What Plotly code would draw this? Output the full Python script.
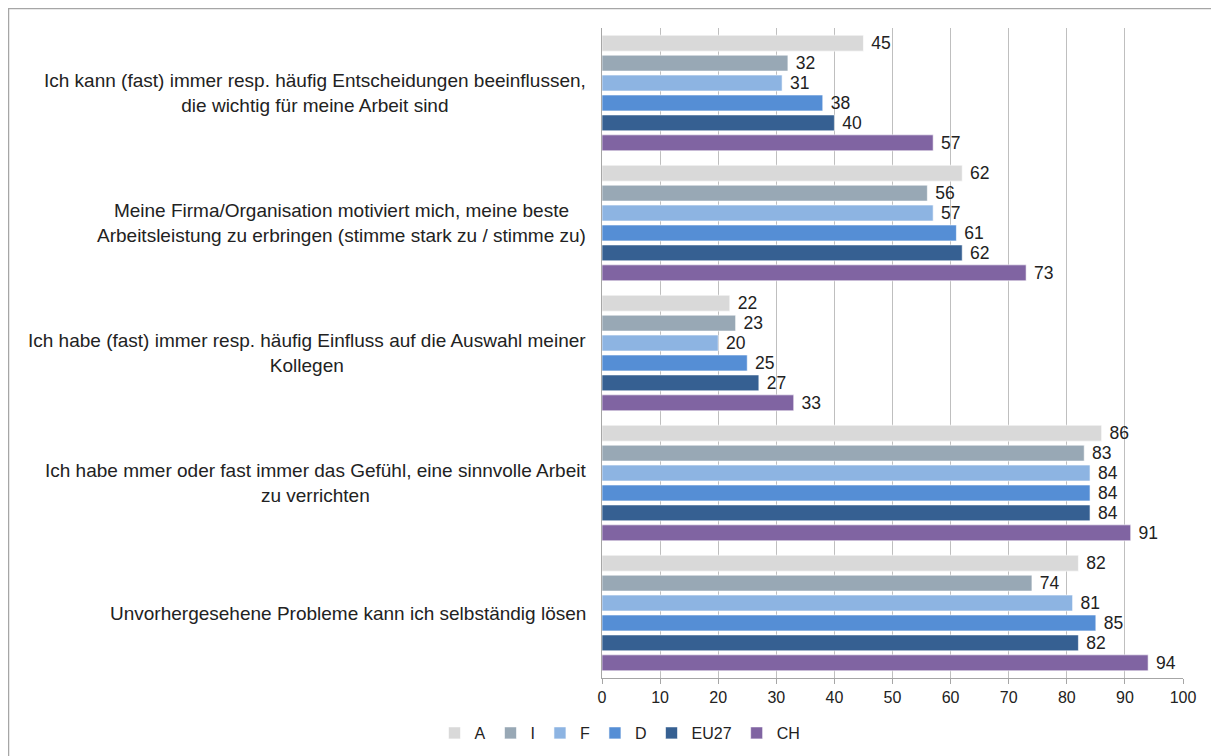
import plotly.graph_objects as go

categories = [
    "Ich kann (fast) immer resp. häufig Entscheidungen beeinflussen,<br>die wichtig für meine Arbeit sind",
    "Meine Firma/Organisation motiviert mich, meine beste<br>Arbeitsleistung zu erbringen (stimme stark zu / stimme zu)",
    "Ich habe (fast) immer resp. häufig Einfluss auf die Auswahl meiner<br>Kollegen",
    "Ich habe mmer oder fast immer das Gefühl, eine sinnvolle Arbeit<br>zu verrichten",
    "Unvorhergesehene Probleme kann ich selbständig lösen",
]
series_names = ["A", "I", "F", "D", "EU27", "CH"]
values_A = [45, 62, 22, 86, 82]
values_I = [32, 56, 23, 83, 74]
values_F = [31, 57, 20, 84, 81]
values_D = [38, 61, 25, 84, 85]
values_EU27 = [40, 62, 27, 84, 82]
values_CH = [57, 73, 33, 91, 94]
series_values = [values_A, values_I, values_F, values_D, values_EU27, values_CH]
colors = ["#D9D9D9", "#98A8B5", "#8DB4E2", "#558ED5", "#366092", "#8064A2"]
x_ticks = [0, 10, 20, 30, 40, 50, 60, 70, 80, 90, 100]

# page body has an 8px default margin; figure coordinates are page - 8
OFF = 8
W, H = 1211, 748
L, R, T, B = 602 - OFF, 36, 28 - OFF, 78
pw, ph = W - L - R, H - T - B

def px_x(page_x):
    return (page_x - OFF - L) / pw

def px_y(page_y):
    return (H - B - (page_y - OFF)) / ph

fig = go.Figure()
for name, vals, col in zip(series_names, series_values, colors):
    fig.add_trace(go.Bar(
        y=list(range(len(categories))), x=vals, name=name, orientation="h",
        marker=dict(color=col, line=dict(color="rgba(255,255,255,0.6)", width=1)),
        text=[" " + str(v) for v in vals], textposition="outside",
        constraintext="none",
        textfont=dict(size=17.5, color="#222"), cliponaxis=False,
    ))

for i, c in enumerate(categories):
    fig.add_annotation(x=px_x(588), xref="paper", y=i, yref="y", text=c,
                       showarrow=False, xanchor="right", align="center",
                       font=dict(size=19, color="#222"))

fig.add_shape(type="rect", xref="paper", yref="paper",
              x0=px_x(8.5), x1=px_x(1217),
              y0=px_y(775), y1=px_y(8.5),
              line=dict(color="#A6A6A6", width=1.5), layer="below")

fig.update_layout(
    width=W, height=H, margin=dict(l=L, r=R, t=T, b=B, autoexpand=False),
    paper_bgcolor="white", plot_bgcolor="white",
    barmode="group", bargap=0.08, bargroupgap=0.2,
    font=dict(family="Liberation Sans, Arial, sans-serif", size=16, color="#222"),
    xaxis=dict(range=[0, 100], tickvals=x_ticks, showgrid=True, gridcolor="#BFBFBF",
               gridwidth=1, showline=True, linecolor="#A6A6A6", ticks="outside",
               ticklen=5, tickcolor="#A6A6A6", zeroline=False, tickfont=dict(size=16)),
    yaxis=dict(autorange="reversed", showticklabels=False, showgrid=False,
               showline=True, linecolor="#A6A6A6", zeroline=False),
    showlegend=True,
    legend=dict(orientation="h", x=px_x(620), xanchor="center", y=px_y(733),
                yanchor="middle", font=dict(size=16), itemwidth=30,
                traceorder="normal"),
)

fig.write_html("out.html")
